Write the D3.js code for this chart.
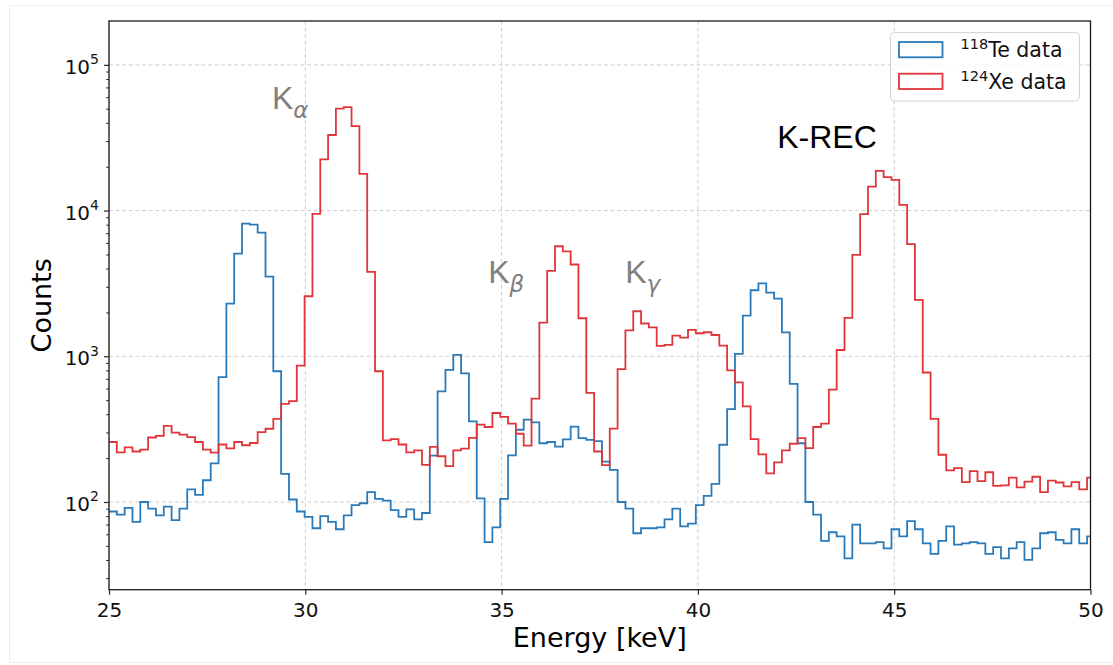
<!DOCTYPE html>
<html>
<head>
<meta charset="utf-8">
<script src="https://cdn.jsdelivr.net/npm/d3@7/dist/d3.min.js"></script>
<style>
  html, body { margin: 0; padding: 0; background: #fff; }
  svg { display: block; }
</style>
</head>
<body>
<svg id="chart" width="1113" height="665"></svg>
<script>
// Histogram binning (energy in keV)
const binStart = 25;
const binWidth = 0.1993;

// 118Te spectrum, counts per bin
const teCounts = [
  86, 82, 91, 73, 100, 90, 81, 93, 75, 90,
  122, 112, 141, 184, 719, 2301, 5070, 8147, 8017, 7047,
  3516, 789, 156, 104, 86, 79, 66, 80, 73, 65,
  81, 95, 98, 117, 105, 102, 88, 79, 89, 76,
  84, 208, 574, 807, 1023, 762, 357, 106, 53, 67,
  105, 209, 313, 368, 352, 253, 258, 240, 269, 329,
  274, 267, 262, 189, 166, 100, 90, 61, 66, 66,
  67, 76, 90, 68, 71, 95, 110, 133, 247, 434,
  1038, 1901, 2838, 3162, 2735, 2489, 1459, 646, 253, 100,
  82, 54, 62, 58, 41, 70, 52, 52, 53, 48,
  65, 58, 74, 65, 52, 44, 54, 68, 51, 52,
  53, 52, 44, 49, 41, 48, 53, 40, 48, 61,
  62, 55, 52, 65, 52, 58
];

// 124Xe spectrum, counts per bin
const xeCounts = [
  258, 219, 237, 222, 229, 277, 284, 333, 299, 290,
  279, 258, 229, 218, 248, 233, 258, 245, 254, 302,
  318, 372, 471, 493, 863, 2582, 9484, 22490, 33000, 50120,
  51200, 37930, 17860, 3793, 789, 265, 270, 248, 219, 226,
  180, 239, 206, 176, 226, 232, 275, 340, 327, 408,
  384, 345, 294, 244, 512, 1702, 3855, 5689, 5248, 4266,
  1824, 560, 222, 179, 319, 815, 1507, 2037, 1679, 1578,
  1180, 1197, 1387, 1343, 1517, 1439, 1462, 1400, 1183, 800,
  661, 453, 270, 212, 157, 187, 226, 251, 274, 234,
  327, 345, 590, 1104, 1832, 4966, 9441, 14620, 18710, 16940,
  16260, 10940, 5875, 2438, 774, 372, 211, 165, 171, 137,
  163, 139, 160, 129, 130, 147, 126, 138, 149, 117,
  140, 136, 128, 137, 122, 147
];

const xTicks = [25, 30, 35, 40, 45, 50];
const yTickExponents = [2, 3, 4, 5];

const seriesMass = ["118", "124"];
const seriesNames = ["Te data", "Xe data"];
const seriesColors = ["#2a7ab9", "#e0363a"];

// Peak annotations: energy, count, main letter, subscript
const peakLabels = [
  { e: 29.15, c: 49900, main: "K", sub: "\u03B1", color: "#808080" },
  { e: 34.66, c: 3180,  main: "K", sub: "\u03B2", color: "#808080" },
  { e: 38.15, c: 3180,  main: "K", sub: "\u03B3", color: "#808080" },
  { e: 42.02, c: 26800, main: "K-REC", sub: "", color: "#000000" }
];

const svg = d3.select("#chart");
const plot = { left: 109, right: 1090.5, top: 21, bottom: 589.7 };

const x = d3.scaleLinear().domain([25, 50]).range([plot.left, plot.right]);
const y = d3.scaleLog().domain([25, 2e5]).range([plot.bottom, plot.top]);

// faint outer figure border
svg.append("rect")
  .attr("x", 9.5).attr("y", 5.5)
  .attr("width", 1110).attr("height", 657)
  .attr("fill", "none").attr("stroke", "#ededed").attr("stroke-width", 1);

svg.append("defs").append("clipPath").attr("id", "plotClip")
  .append("rect")
  .attr("x", plot.left).attr("y", plot.top)
  .attr("width", plot.right - plot.left).attr("height", plot.bottom - plot.top);

// grid lines
const grid = svg.append("g").attr("class", "grid");
grid.selectAll("line.gx").data(xTicks).join("line")
  .attr("x1", d => x(d)).attr("x2", d => x(d))
  .attr("y1", plot.top).attr("y2", plot.bottom)
  .attr("stroke", "#cfcfcf").attr("stroke-width", 1).attr("stroke-dasharray", "4,2.6");
grid.selectAll("line.gy").data(yTickExponents).join("line")
  .attr("x1", plot.left).attr("x2", plot.right)
  .attr("y1", d => y(Math.pow(10, d))).attr("y2", d => y(Math.pow(10, d)))
  .attr("stroke", "#cfcfcf").attr("stroke-width", 1).attr("stroke-dasharray", "4,2.6");

// histogram step outlines
function stepPoints(counts) {
  const pts = counts.map((c, i) => [binStart + i * binWidth, c]);
  pts.push([binStart + counts.length * binWidth, counts[counts.length - 1]]);
  return pts;
}
const stepLine = d3.line()
  .x(d => x(d[0]))
  .y(d => y(d[1]))
  .curve(d3.curveStepAfter);

const hist = svg.append("g").attr("clip-path", "url(#plotClip)");
[teCounts, xeCounts].forEach((counts, k) => {
  hist.append("path")
    .attr("d", stepLine(stepPoints(counts)))
    .attr("fill", "none")
    .attr("stroke", seriesColors[k])
    .attr("stroke-width", 1.8)
    .attr("stroke-linejoin", "miter");
});

// axes
const tickFont = "'DejaVu Sans', sans-serif";
const xAxis = svg.append("g")
  .attr("transform", `translate(0,${plot.bottom})`)
  .call(d3.axisBottom(x).tickValues(xTicks).tickFormat(d3.format("d")).tickSize(5).tickPadding(8));
xAxis.select(".domain").remove();
xAxis.selectAll(".tick line").attr("stroke", "#262626").attr("stroke-width", 1.2);
xAxis.selectAll(".tick text")
  .attr("font-family", tickFont).attr("font-size", 20).attr("fill", "#111");

const minorVals = [];
for (let k = 1; k <= 5; k++) {
  for (let m = 2; m <= 9; m++) {
    const v = m * Math.pow(10, k);
    if (v >= 25 && v < 2e5) minorVals.push(v);
  }
}
const yMinor = svg.append("g")
  .attr("transform", `translate(${plot.left},0)`)
  .call(d3.axisLeft(y).tickValues(minorVals).tickFormat("").tickSize(2.8));
yMinor.select(".domain").remove();
yMinor.selectAll(".tick line").attr("stroke", "#262626").attr("stroke-width", 1);

const yAxis = svg.append("g")
  .attr("transform", `translate(${plot.left},0)`)
  .call(d3.axisLeft(y).tickValues(yTickExponents.map(e => Math.pow(10, e))).tickSize(5).tickPadding(9));
yAxis.select(".domain").remove();
yAxis.selectAll(".tick line").attr("stroke", "#262626").attr("stroke-width", 1.2);
yAxis.selectAll(".tick text").each(function (d) {
  const t = d3.select(this);
  t.text(null)
    .attr("font-family", tickFont).attr("fill", "#111")
    .attr("dy", null).attr("y", 8.5).attr("x", -10);
  t.append("tspan").attr("font-size", 20).text("10");
  t.append("tspan").attr("font-size", 14).attr("dy", -9.5).text(Math.round(Math.log10(d)));
});

// frame
svg.append("rect")
  .attr("x", plot.left).attr("y", plot.top)
  .attr("width", plot.right - plot.left).attr("height", plot.bottom - plot.top)
  .attr("fill", "none").attr("stroke", "#1a1a1a").attr("stroke-width", 1.3);

// axis titles
svg.append("text")
  .attr("x", (plot.left + plot.right) / 2).attr("y", 647)
  .attr("text-anchor", "middle")
  .attr("font-family", tickFont).attr("font-size", 27).attr("fill", "#000")
  .text("Energy [keV]");
svg.append("text")
  .attr("transform", `translate(51,${(plot.top + plot.bottom) / 2}) rotate(-90)`)
  .attr("text-anchor", "middle")
  .attr("font-family", tickFont).attr("font-size", 27).attr("fill", "#000")
  .text("Counts");

// peak annotations
peakLabels.forEach(p => {
  const t = svg.append("text")
    .attr("x", x(p.e)).attr("y", y(p.c))
    .attr("fill", p.color);
  t.append("tspan")
    .attr("font-family", "'Liberation Sans', Arial, sans-serif")
    .attr("font-size", 32)
    .text(p.main);
  if (p.sub) {
    t.append("tspan")
      .attr("font-family", "'DejaVu Sans', sans-serif")
      .attr("font-style", "italic")
      .attr("font-size", 23)
      .attr("dy", 9)
      .text(p.sub);
  }
});

// legend
const legend = svg.append("g");
legend.append("rect")
  .attr("x", 890.5).attr("y", 32.5).attr("width", 189).attr("height", 68.5)
  .attr("rx", 4).attr("ry", 4)
  .attr("fill", "#ffffff").attr("fill-opacity", 0.8)
  .attr("stroke", "#d4d4d4").attr("stroke-width", 1);
seriesNames.forEach((name, k) => {
  const top = 42 + k * 31.7;
  legend.append("rect")
    .attr("x", 899).attr("y", top).attr("width", 43.5).attr("height", 15.3)
    .attr("fill", "none").attr("stroke", seriesColors[k]).attr("stroke-width", 1.8);
  const t = legend.append("text")
    .attr("x", 960.5).attr("y", top + 15.3)
    .attr("font-family", tickFont).attr("fill", "#111");
  t.append("tspan").attr("font-size", 14.5).attr("dy", -8).text(seriesMass[k]);
  t.append("tspan").attr("font-size", 20.5).attr("dy", 8).text(name);
});
</script>
</body>
</html>
